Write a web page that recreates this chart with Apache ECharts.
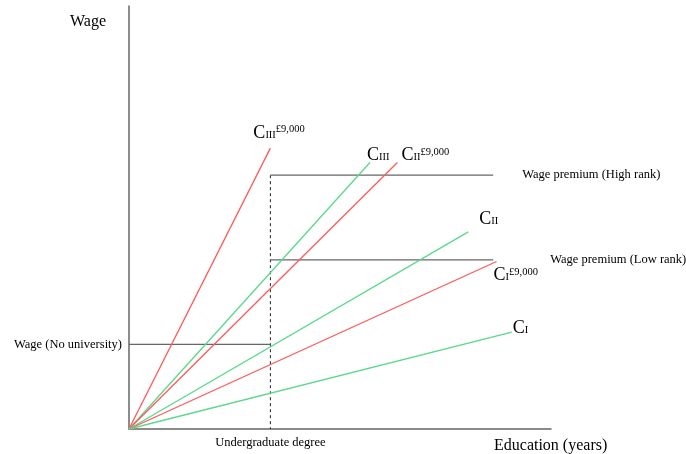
<!DOCTYPE html>
<html>
<head>
<meta charset="utf-8">
<script src="https://cdn.jsdelivr.net/npm/echarts@6/dist/echarts.min.js"></script>
<style>
  html, body { margin: 0; padding: 0; background: #fff; }
  #chart { width: 686px; height: 454px; }
</style>
</head>
<body>
<div id="chart"></div>
<script>
// rays from the origin: cost lines, green = before fees, red = with £9,000 fees
const raySub = ['III', 'III', 'II', 'II', 'I', 'I']
const raySup = ['£9,000', '', '£9,000', '', '£9,000', '']
const rayEndX = [33.5, 57.1, 63.6, 80.4, 87.1, 90.7]
const rayEndY = [66.4, 63.0, 63.0, 46.6, 39.6, 22.9]
const rayColor = ['#ff5a5a', '#5ad98c', '#ff5a5a', '#5ad98c', '#ff5a5a', '#5ad98c']
const rayLabelOffset = [[-25, -15], [-11, -7], [-4, -7], [3, -13], [-11, 14], [-7, -4]]

// horizontal wage levels
const degreeX = 33.5
const noUniWage = 20
const highPremium = 60
const lowPremium = 40
const premiumEndX = 86.3

const fontFamily = '"Liberation Serif", "DejaVu Serif", serif'
const chart = echarts.init(document.getElementById('chart'))

const richC = {
  c: { fontSize: 18, fontFamily: fontFamily, color: '#000' },
  sub: { fontSize: 10.5, fontFamily: fontFamily, color: '#000', padding: [4, 0, 0, 0] },
  sup: { fontSize: 10.5, fontFamily: fontFamily, color: '#000', padding: [0, 0, 7, 0] }
}

const rays = raySub.map((sub, i) => ({
  type: 'line',
  symbol: 'none',
  data: [[0, 0], [rayEndX[i], rayEndY[i]]],
  lineStyle: { color: rayColor[i], width: 1.3 },
  endLabel: {
    show: true,
    align: 'left',
    verticalAlign: 'middle',
    offset: rayLabelOffset[i],
    formatter: () => '{c|C}{sub|' + sub + '}' + (raySup[i] ? '{sup|' + raySup[i] + '}' : ''),
    rich: richC
  }
}))

function levelLine (data, text, align, offset, dashed) {
  return {
    type: 'line',
    symbol: 'none',
    data: data,
    lineStyle: { color: dashed ? '#222' : '#666', width: dashed ? 1 : 1.2, type: dashed ? [3, 3] : 'solid' },
    endLabel: {
      show: true,
      align: align,
      verticalAlign: 'middle',
      offset: offset,
      formatter: text,
      fontSize: 12.5,
      fontFamily: fontFamily,
      color: '#000'
    }
  }
}

const option = {
  animation: false,
  grid: { left: 129, top: 6, width: 422, height: 423 },
  xAxis: {
    type: 'value',
    min: 0,
    max: 100,
    name: 'Education (years)',
    nameLocation: 'end',
    nameGap: -57,
    nameTextStyle: { fontSize: 16, fontFamily: fontFamily, color: '#000', align: 'left', verticalAlign: 'top', padding: [9, 0, 0, 0] },
    axisLine: { lineStyle: { color: '#666', width: 1.5 } },
    axisTick: { show: false },
    axisLabel: { show: false },
    splitLine: { show: false }
  },
  yAxis: {
    type: 'value',
    min: 0,
    max: 100,
    name: 'Wage',
    nameLocation: 'end',
    nameGap: -16,
    nameTextStyle: { fontSize: 16, fontFamily: fontFamily, color: '#000', align: 'right', verticalAlign: 'middle', padding: [0, 23, 0, 0] },
    axisLine: { show: true, lineStyle: { color: '#666', width: 1.5 } },
    axisTick: { show: false },
    axisLabel: { show: false },
    splitLine: { show: false }
  },
  series: [
    levelLine([[degreeX, highPremium], [degreeX, 0]], 'Undergraduate degree', 'center', [-8, 14], true),
    levelLine([[degreeX, noUniWage], [0, noUniWage]], 'Wage (No university)', 'right', [-15, 0], false),
    levelLine([[degreeX, highPremium], [premiumEndX, highPremium]], 'Wage premium (High rank)', 'left', [21, 0], false),
    levelLine([[degreeX, lowPremium], [premiumEndX, lowPremium]], 'Wage premium (Low rank)', 'left', [49, 0], false)
  ].concat(rays)
}

chart.setOption(option)
</script>
</body>
</html>
